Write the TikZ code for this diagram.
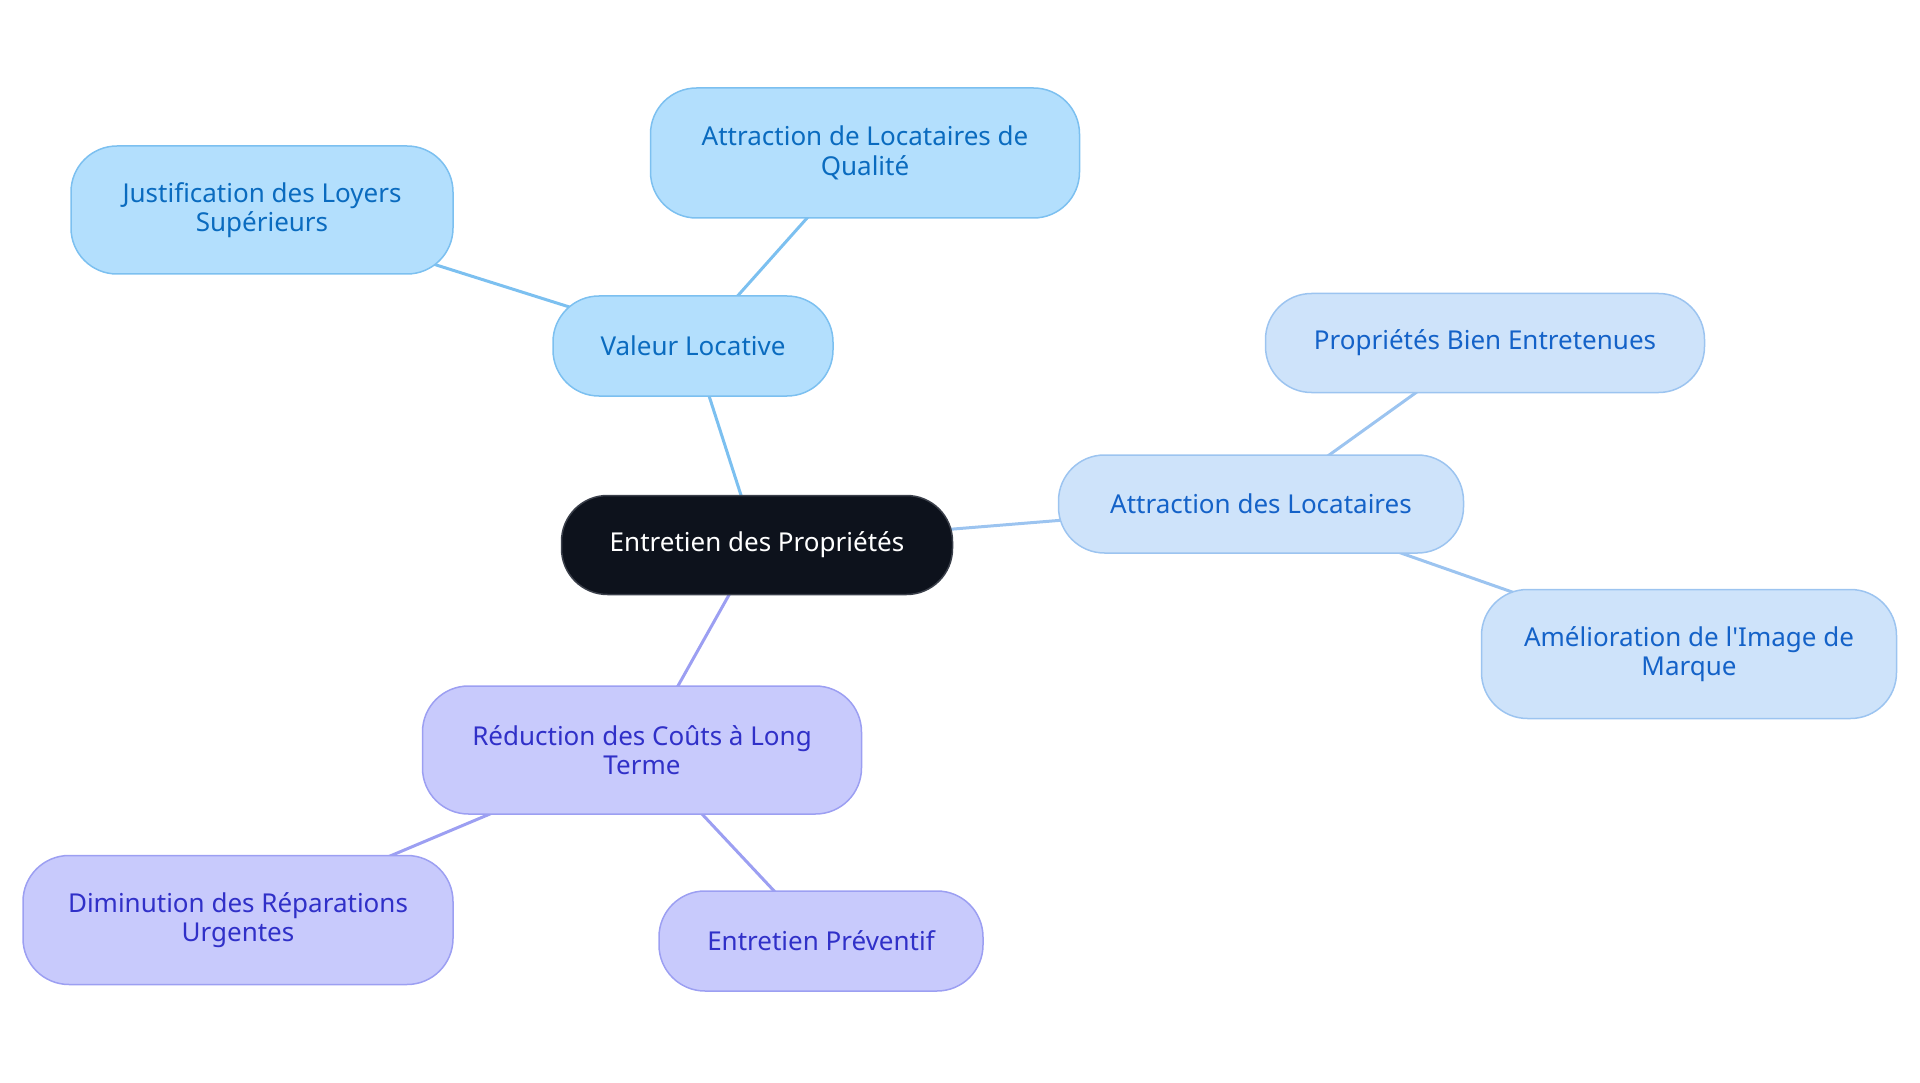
\documentclass[tikz,border=0pt]{standalone}
\usepackage{fontspec}
\setmainfont{Noto Sans}
\usetikzlibrary{backgrounds}
\definecolor{rootfill}{HTML}{0D121C}
\definecolor{rootline}{HTML}{3A3F4A}
\definecolor{bluefill}{HTML}{B3DFFD}
\definecolor{blueline}{HTML}{7CC0F0}
\definecolor{bluetext}{HTML}{0A6BBF}
\definecolor{skyfill}{HTML}{CEE3FA}
\definecolor{skyline}{HTML}{9CC4F0}
\definecolor{skytext}{HTML}{1462C8}
\definecolor{lilacfill}{HTML}{C8CAFC}
\definecolor{lilacline}{HTML}{9C9FF2}
\definecolor{lilactext}{HTML}{3030C8}

\begin{document}
\begin{tikzpicture}[
    x=1pt, y=-1pt,
    box/.style={rounded corners=46pt, line width=1.5pt, align=center, inner sep=0pt,
      font=\fontsize{26}{29.5}\selectfont},
    rootbox/.style={box, fill=rootfill, draw=rootline, text=white},
    bluebox/.style={box, fill=bluefill, draw=blueline, text=bluetext},
    skybox/.style={box, fill=skyfill, draw=skyline, text=skytext},
    lilacbox/.style={box, fill=lilacfill, draw=lilacline, text=lilactext},
    link/.style={line width=3pt},
]
  \useasboundingbox (0,0) rectangle (1920,1083);

  % noeud central
  \node[rootbox, minimum width=391pt, minimum height=99pt] (root) at (757,545) {Entretien des Propriétés};

  % branche valeur locative
  \node[bluebox, minimum width=280pt, minimum height=100pt] (valeur) at (693,346) {Valeur Locative};
  \node[bluebox, minimum width=429pt, minimum height=130pt] (qualite) at (865,153) {Attraction de Locataires de\\Qualité};
  \node[bluebox, minimum width=382pt, minimum height=128pt] (loyers) at (262,210) {Justification des Loyers\\Supérieurs};

  % branche attraction
  \node[skybox, minimum width=405pt, minimum height=98pt] (attraction) at (1261,504) {Attraction des Locataires};
  \node[skybox, minimum width=439pt, minimum height=99pt] (biens) at (1485,343) {Propriétés Bien Entretenues};
  \node[skybox, minimum width=415pt, minimum height=129pt] (image) at (1689,654) {Amélioration de l\textquotesingle Image de\\Marque};

  % branche couts
  \node[lilacbox, minimum width=439pt, minimum height=128pt] (couts) at (642,750) {Réduction des Coûts à Long\\Terme};
  \node[lilacbox, minimum width=430pt, minimum height=129pt] (reparations) at (238,920) {Diminution des Réparations\\Urgentes};
  \node[lilacbox, minimum width=324pt, minimum height=100pt] (preventif) at (821,941) {Entretien Préventif};

  \begin{scope}[on background layer]
    \draw[link, blueline] (root.center) -- (valeur.center);
    \draw[link, blueline] (valeur.center) -- (qualite.center);
    \draw[link, blueline] (valeur.center) -- (loyers.center);
    \draw[link, skyline] (root.center) -- (attraction.center);
    \draw[link, skyline] (attraction.center) -- (biens.center);
    \draw[link, skyline] (attraction.center) -- (image.center);
    \draw[link, lilacline] (root.center) -- (couts.center);
    \draw[link, lilacline] (couts.center) -- (reparations.center);
    \draw[link, lilacline] (couts.center) -- (preventif.center);
  \end{scope}
\end{tikzpicture}
\end{document}
